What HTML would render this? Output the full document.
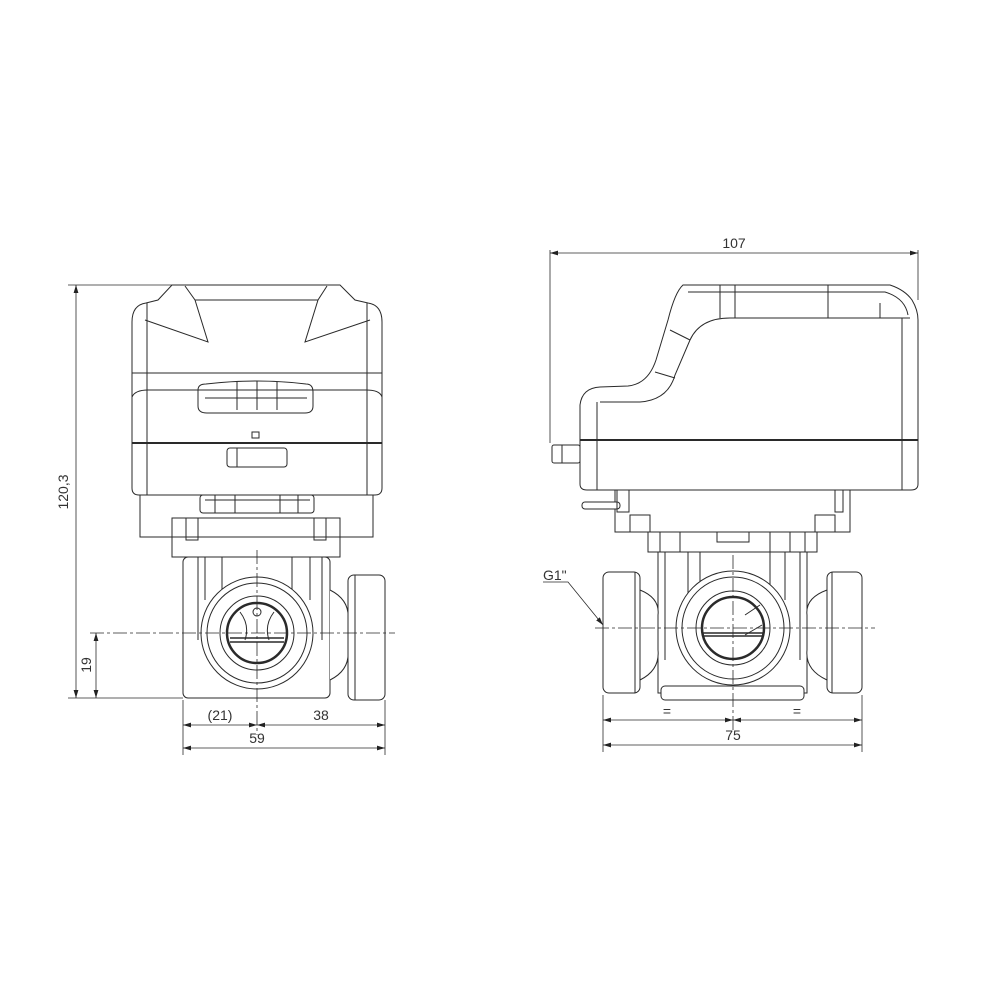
<!DOCTYPE html>
<html><head><meta charset="utf-8"><style>
html,body{margin:0;padding:0;background:#fff}
svg{display:block}
text{font-family:"Liberation Sans",sans-serif;font-size:14px;fill:#333}
</style></head><body>
<svg width="1000" height="1000" viewBox="0 0 1000 1000" xmlns="http://www.w3.org/2000/svg">
<defs>
<marker id="a" viewBox="0 0 10 6" refX="10" refY="3" markerWidth="10" markerHeight="6" orient="auto-start-reverse"><path d="M0,0L10,3L0,6z" fill="#222"/></marker>
</defs>
<g fill="none" stroke="#2a2a2a" stroke-width="1">
<!-- LEFT VIEW -->
<!-- actuator -->
<path d="M172,285 L340,285 L355,300 L368,303 Q382,305 382,322 L382,488 Q382,495 375,495 L139,495 Q132,495 132,488 L132,322 Q132,305 146,303 L158,300 Z" fill="#fff"/>
<path d="M185,286 L195,300 L208,342 L145,320"/>
<path d="M327,286 L318,300 L305,342 L370,320"/>
<path d="M195,300 L318,300"/>
<line x1="132" y1="373" x2="382" y2="373"/>
<path d="M132,397 Q135,390 148,390 L366,390 Q380,390 382,397"/>
<line x1="132" y1="443" x2="382" y2="443" stroke-width="2"/>
<line x1="147" y1="303" x2="147" y2="495"/><line x1="367" y1="303" x2="367" y2="495"/>
<path d="M198,390 Q198,384 206,384 Q257,378 306,384 Q313,384 313,392 L313,406 Q313,413 305,413 L207,413 Q198,413 198,406 Z"/>
<path d="M205,398 L307,398 M237,382 V410 M257,381 V410 M277,382 V410"/>
<rect x="252" y="432" width="7" height="6"/>
<rect x="227" y="448" width="60" height="19" rx="3"/>
<line x1="237" y1="448" x2="237" y2="467"/>
<!-- below actuator -->
<rect x="140" y="495" width="233" height="42" fill="#fff"/>
<rect x="200" y="495" width="114" height="18" rx="3"/>
<path d="M205,500 L310,500 M215,495 V513 M235,495 V513 M280,495 V513 M298,495 V513"/>
<rect x="172" y="518" width="168" height="39" fill="#fff"/>
<rect x="186" y="518" width="12" height="22"/><rect x="314" y="518" width="12" height="22"/>
<line x1="172" y1="537" x2="340" y2="537"/>
<rect x="183" y="557" width="147" height="141" rx="5" fill="#fff"/>
<path d="M198,557 V640 M205,557 V600 M222,557 V600 M292,557 V600 M310,557 V600 M322,557 V640"/>
<!-- right port -->
<path d="M330,590 Q350,600 348,620 L348,650 Q350,670 330,680" fill="#fff"/>
<rect x="348" y="575" width="37" height="125" rx="6" fill="#fff"/>
<line x1="355" y1="575" x2="355" y2="700"/>
<circle cx="257" cy="633" r="56" fill="#fff"/>
<circle cx="257" cy="633" r="50"/>
<circle cx="257" cy="633" r="37"/>
<circle cx="257" cy="633" r="30" stroke-width="2.5"/>
<circle cx="257" cy="612" r="4"/>
<path d="M230,638 L284,638 M230,642 L284,642" stroke-width="1.5"/>
<path d="M240,612 Q250,625 245,640 M274,612 Q264,625 269,640"/>
<!-- LEFT DIMS -->
<g stroke-width="0.8">
<line x1="68" y1="285" x2="172" y2="285"/>
<line x1="68" y1="698" x2="183" y2="698"/>
<line x1="76" y1="285" x2="76" y2="698" marker-start="url(#a)" marker-end="url(#a)"/>
<line x1="90" y1="633" x2="395" y2="633" stroke-dasharray="14,3,3,3"/>
<line x1="96" y1="633" x2="96" y2="698" marker-start="url(#a)" marker-end="url(#a)"/>
<line x1="257" y1="550" x2="257" y2="735" stroke-dasharray="14,3,3,3"/>
<line x1="183" y1="700" x2="183" y2="755"/>
<line x1="385" y1="700" x2="385" y2="755"/>
<line x1="183" y1="725" x2="257" y2="725" marker-start="url(#a)" marker-end="url(#a)"/>
<line x1="257" y1="725" x2="385" y2="725" marker-start="url(#a)" marker-end="url(#a)"/>
<line x1="183" y1="748" x2="385" y2="748" marker-start="url(#a)" marker-end="url(#a)"/>
</g>
<!-- RIGHT VIEW -->
<path d="M683,285 L890,285 Q905,290 912,300 Q918,310 918,320 L918,484 Q918,490 911,490 L587,490 Q580,490 580,484 L580,405 Q582,388 600,387 L628,386 Q648,384 656,360 L668,320 Q675,292 683,285 Z" fill="#fff"/>
<path d="M688,292 L885,292 Q905,298 908,315"/>
<path d="M730,318 L910,318 M730,318 Q700,318 690,340 L675,375 Q668,400 640,402 L600,402"/>
<line x1="580" y1="440" x2="918" y2="440" stroke-width="2"/>
<line x1="597" y1="402" x2="597" y2="490"/><line x1="902" y1="318" x2="902" y2="490"/>
<path d="M720,285 V318 M735,285 V318 M828,285 V318 M880,303 V318 M670,330 L690,340 M655,372 L675,378"/>
<rect x="552" y="445" width="28" height="18" rx="2" fill="#fff"/>
<line x1="562" y1="445" x2="562" y2="463"/>
<rect x="615" y="490" width="235" height="42" fill="#fff"/>
<rect x="582" y="502" width="38" height="7" rx="3" fill="#fff"/>
<rect x="617" y="490" width="12" height="22"/><rect x="835" y="490" width="8" height="22"/>
<rect x="630" y="515" width="20" height="17"/><rect x="815" y="515" width="20" height="17"/>
<rect x="648" y="532" width="169" height="20" fill="#fff"/>
<rect x="717" y="532" width="32" height="10"/>
<path d="M660,532 V552 M680,532 V552 M770,532 V552 M790,532 V552 M805,532 V552"/>
<rect x="658" y="552" width="149" height="141" fill="#fff"/>
<rect x="661" y="686" width="143" height="14" rx="4" fill="#fff"/>
<path d="M665,552 V660 M688,552 V600 M700,552 V600 M770,552 V600 M785,552 V600 M800,552 V660"/>
<!-- ports -->
<path d="M640,590 Q660,598 658,615 L658,650 Q660,670 640,680" fill="#fff"/>
<path d="M827,590 Q805,598 807,615 L807,650 Q805,670 827,680" fill="#fff"/>
<rect x="603" y="572" width="37" height="121" rx="6" fill="#fff"/>
<rect x="827" y="572" width="35" height="121" rx="6" fill="#fff"/>
<line x1="635" y1="572" x2="635" y2="693"/><line x1="832" y1="572" x2="832" y2="693"/>
<circle cx="733" cy="628" r="57" fill="#fff"/>
<circle cx="733" cy="628" r="51"/>
<circle cx="733" cy="628" r="37"/>
<circle cx="733" cy="628" r="31" stroke-width="2.5"/>
<path d="M703,633 L763,633 M703,636 L763,636" stroke-width="1.5"/>
<path d="M745,615 L760,605 M745,635 L762,625"/>
<!-- RIGHT DIMS -->
<g stroke-width="0.8">
<line x1="550" y1="250" x2="550" y2="443"/>
<line x1="918" y1="250" x2="918" y2="300"/>
<line x1="550" y1="253" x2="918" y2="253" marker-start="url(#a)" marker-end="url(#a)"/>
<line x1="595" y1="628" x2="875" y2="628" stroke-dasharray="14,3,3,3"/>
<line x1="733" y1="555" x2="733" y2="730" stroke-dasharray="14,3,3,3"/>
<line x1="603" y1="695" x2="603" y2="752"/>
<line x1="862" y1="695" x2="862" y2="752"/>
<line x1="603" y1="720" x2="733" y2="720" marker-start="url(#a)" marker-end="url(#a)"/>
<line x1="733" y1="720" x2="862" y2="720" marker-start="url(#a)" marker-end="url(#a)"/>
<line x1="603" y1="745" x2="862" y2="745" marker-start="url(#a)" marker-end="url(#a)"/>
<polyline points="543,582 568,582 603,625" marker-end="url(#a)"/>
</g>
</g>
<text x="68" y="492" transform="rotate(-90 68 492)" text-anchor="middle">120,3</text>
<text x="91" y="665" transform="rotate(-90 91 665)" text-anchor="middle">19</text>
<text x="220" y="720" text-anchor="middle">(21)</text>
<text x="321" y="720" text-anchor="middle">38</text>
<text x="257" y="743" text-anchor="middle">59</text>
<text x="734" y="248" text-anchor="middle">107</text>
<text x="543" y="580">G1"</text>
<text x="667" y="716" text-anchor="middle">=</text>
<text x="797" y="716" text-anchor="middle">=</text>
<text x="733" y="740" text-anchor="middle">75</text>
</svg>
</body></html>
